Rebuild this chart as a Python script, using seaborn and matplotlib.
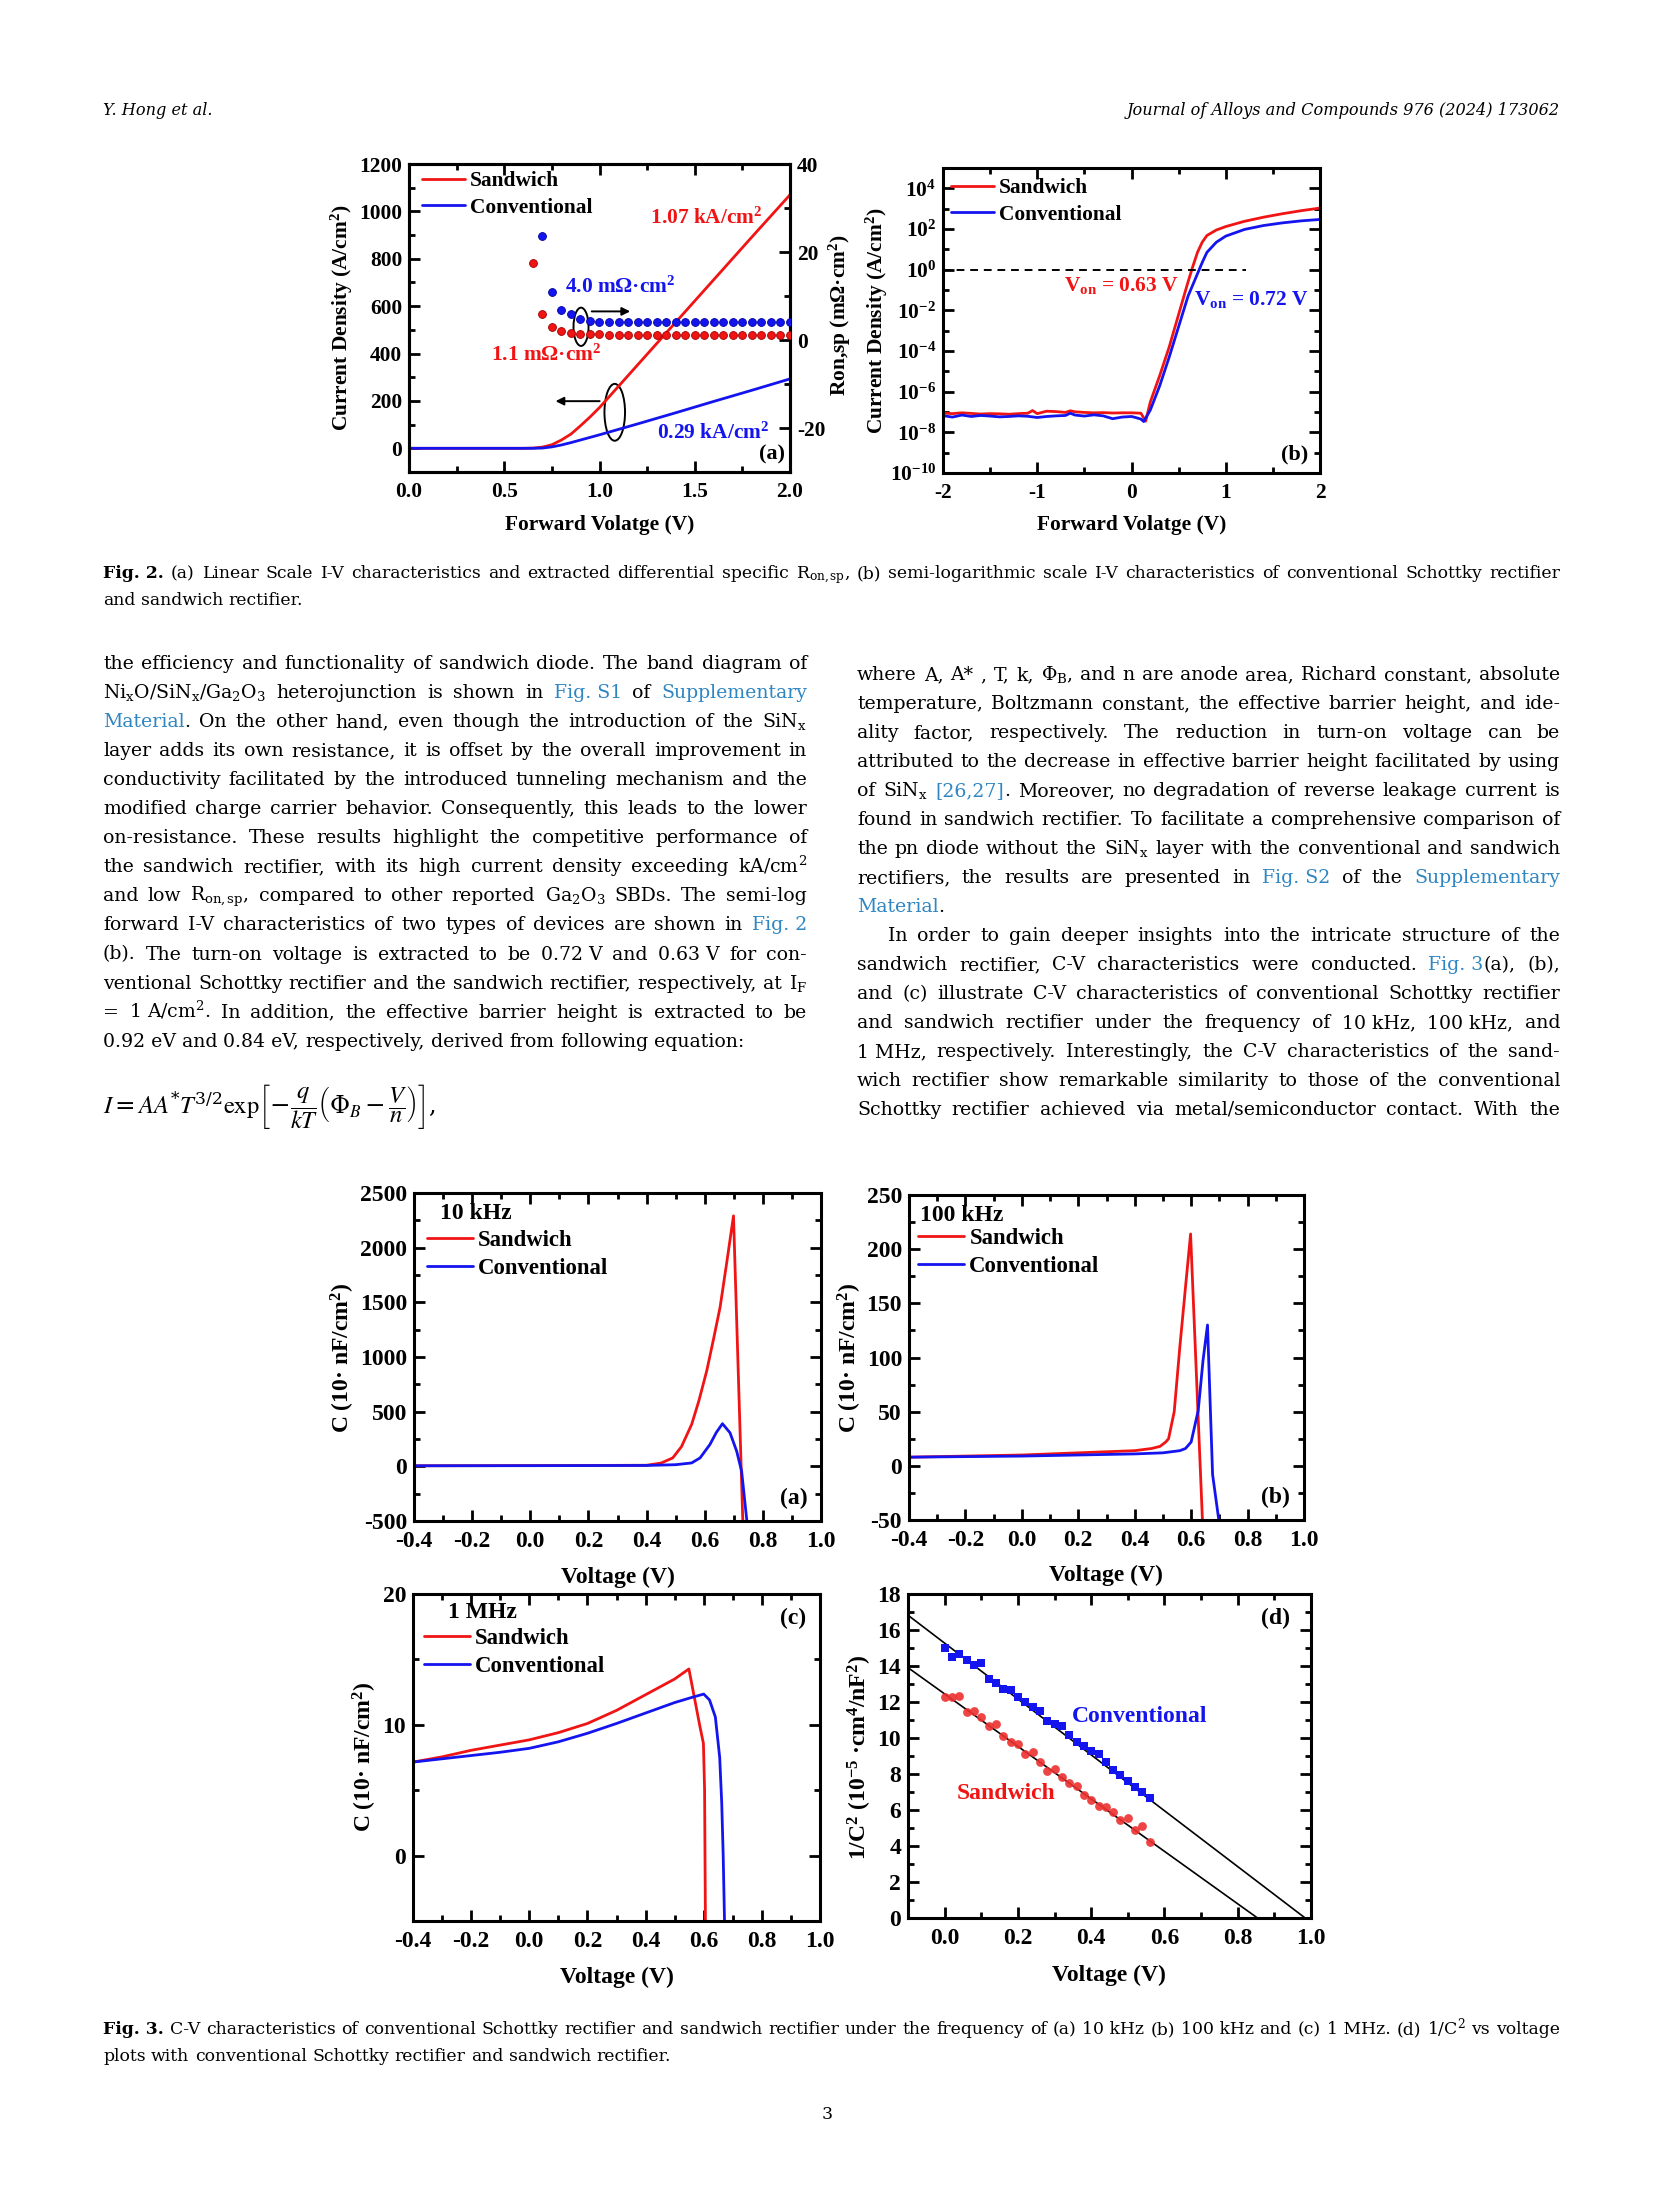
import numpy as np
import matplotlib
matplotlib.use('Agg')
import matplotlib.pyplot as plt
import seaborn as sns
from matplotlib.patches import Ellipse
from matplotlib.ticker import MultipleLocator, FixedLocator, NullFormatter

# ---------------- values ----------------
# Fig. 2(a) linear J-V, A/cm2
sand_v = [0.0, 0.6, 0.65, 0.7, 0.75, 0.8, 0.85, 0.9, 0.95, 1.0, 1.1, 1.2, 1.4, 1.6, 1.8, 2.0]
sand_j = [0, 0, 1, 5, 15, 35, 60, 95, 132, 172, 262, 352, 532, 712, 892, 1070]
conv_v = [0.0, 0.65, 0.7, 0.75, 0.8, 0.85, 0.9, 0.95, 1.0, 1.2, 1.4, 1.6, 1.8, 2.0]
conv_j = [0, 0, 1, 6, 14, 24, 35, 46, 57, 103, 150, 198, 245, 293]

# Fig. 2(a) differential Ron,sp, mOhm.cm2 (right axis)
ron_sand_v = [0.65, 0.70, 0.75, 0.80, 0.85, 0.90, 0.95, 1.00, 1.05, 1.10, 1.15, 1.20, 1.25, 1.30,
              1.35, 1.40, 1.45, 1.50, 1.55, 1.60, 1.65, 1.70, 1.75, 1.80, 1.85, 1.90, 1.95, 2.00]
ron_sand = [17.4, 5.9, 3.0, 2.0, 1.5, 1.4, 1.3, 1.3, 1.25, 1.25, 1.2, 1.2, 1.2, 1.2,
            1.2, 1.2, 1.2, 1.2, 1.2, 1.2, 1.2, 1.2, 1.2, 1.2, 1.2, 1.2, 1.2, 1.2]
ron_conv_v = [0.70, 0.75, 0.80, 0.85, 0.90, 0.95, 1.00, 1.05, 1.10, 1.15, 1.20, 1.25, 1.30, 1.35,
              1.40, 1.45, 1.50, 1.55, 1.60, 1.65, 1.70, 1.75, 1.80, 1.85, 1.90, 1.95, 2.00]
ron_conv = [23.7, 11.0, 6.8, 5.8, 4.7, 4.3, 4.2, 4.1, 4.05, 4.0, 4.0, 4.0, 4.0, 4.0,
            4.0, 4.0, 4.0, 4.0, 4.0, 4.0, 4.0, 4.0, 4.0, 4.0, 4.0, 4.0, 4.0]

# Fig. 2(b) semi-log J-V, log10(A/cm2)
log_v_sand = [-2.0, -1.9, -1.8, -1.7, -1.6, -1.5, -1.4, -1.3, -1.2, -1.1, -1.05, -1.0, -0.9, -0.8,
              -0.7, -0.65, -0.6, -0.5, -0.4, -0.3, -0.2, -0.1, 0.0, 0.1, 0.15, 0.2, 0.3, 0.4, 0.5,
              0.6, 0.65, 0.7, 0.75, 0.8, 0.9, 1.0, 1.2, 1.4, 1.6, 1.8, 2.0]
log_j_sand = [-7.05, -7.08, -7.04, -7.07, -7.10, -7.08, -7.09, -7.11, -7.08, -7.06, -6.93, -7.08,
              -6.96, -6.98, -7.02, -6.94, -6.99, -7.02, -7.04, -7.03, -7.05, -7.04, -7.04, -7.06,
              -7.45, -6.5, -5.2, -3.8, -2.2, -0.6, 0.15, 0.85, 1.35, 1.68, 1.95, 2.12, 2.38, 2.58,
              2.75, 2.9, 3.03]
log_v_conv = [-2.0, -1.9, -1.8, -1.7, -1.6, -1.5, -1.4, -1.3, -1.2, -1.1, -1.0, -0.9, -0.8, -0.7,
              -0.65, -0.6, -0.5, -0.4, -0.3, -0.2, -0.1, 0.0, 0.05, 0.1, 0.13, 0.2, 0.3, 0.4, 0.5,
              0.6, 0.7, 0.75, 0.8, 0.9, 1.0, 1.2, 1.4, 1.6, 1.8, 2.0]
log_j_conv = [-7.18, -7.25, -7.15, -7.22, -7.17, -7.20, -7.24, -7.22, -7.19, -7.21, -7.27, -7.22,
              -7.19, -7.17, -7.06, -7.15, -7.20, -7.14, -7.19, -7.33, -7.25, -7.22, -7.28, -7.35,
              -7.47, -6.9, -5.7, -4.3, -2.8, -1.3, -0.2, 0.35, 0.85, 1.35, 1.65, 1.98, 2.17, 2.3,
              2.4, 2.47]
criterion_j = 1.0
criterion_v_end = 1.22

# Fig. 3(a) 10 kHz
a_sand_v = [-0.4, -0.2, 0.0, 0.2, 0.4, 0.45, 0.49, 0.52, 0.555, 0.58, 0.607, 0.63, 0.653, 0.675, 0.699, 0.731]
a_sand_c = [5, 6, 7, 8, 10, 30, 77, 180, 383, 600, 874, 1160, 1457, 1850, 2291, -500]
a_conv_v = [-0.4, 0.0, 0.4, 0.5, 0.555, 0.584, 0.618, 0.64, 0.661, 0.687, 0.71, 0.727, 0.745]
a_conv_c = [5, 6, 8, 15, 31, 77, 200, 310, 390, 307, 138, -46, -500]

# Fig. 3(b) 100 kHz
b_sand_v = [-0.4, -0.2, 0.0, 0.2, 0.4, 0.46, 0.49, 0.51, 0.52, 0.54, 0.56, 0.58, 0.598, 0.640]
b_sand_c = [8, 9, 10, 12, 14, 16, 18, 22, 25, 50, 110, 165, 214, -50]
b_conv_v = [-0.4, -0.2, 0.0, 0.2, 0.4, 0.5, 0.56, 0.58, 0.60, 0.625, 0.642, 0.658, 0.676, 0.698]
b_conv_c = [8, 8.5, 9, 10, 11, 12, 14, 16, 22, 51, 97, 130, -8, -50]

# Fig. 3(c) 1 MHz
c_sand_v = [-0.4, -0.3, -0.2, -0.1, 0.0, 0.1, 0.2, 0.3, 0.4, 0.5, 0.549, 0.587, 0.599, 0.603, 0.606]
c_sand_c = [7.15, 7.55, 8.05, 8.45, 8.85, 9.4, 10.1, 11.1, 12.3, 13.5, 14.27, 9.87, 8.57, 5.0, -5.5]
c_conv_v = [-0.4, -0.3, -0.2, -0.1, 0.0, 0.1, 0.2, 0.3, 0.4, 0.5, 0.56, 0.6, 0.62, 0.64, 0.655,
            0.662, 0.667, 0.672]
c_conv_c = [7.15, 7.4, 7.65, 7.9, 8.2, 8.7, 9.35, 10.1, 10.9, 11.7, 12.1, 12.35, 11.9, 10.6, 7.5,
            4.0, 0.0, -5.5]

# Fig. 3(d) 1/C^2
d_v = [0.00, 0.02, 0.04, 0.06, 0.08, 0.10, 0.12, 0.14, 0.16, 0.18, 0.20, 0.22, 0.24, 0.26, 0.28,
       0.30, 0.32, 0.34, 0.36, 0.38, 0.40, 0.42, 0.44, 0.46, 0.48, 0.50, 0.52, 0.54, 0.56]
d_conv = [14.98, 14.48, 14.67, 14.34, 14.06, 14.15, 13.28, 13.08, 12.71, 12.67, 12.26, 12.0, 11.75,
          11.5, 10.93, 10.78, 10.64, 10.17, 9.77, 9.56, 9.29, 9.1, 8.64, 8.23, 7.95, 7.62, 7.27,
          6.99, 6.64]
d_sand = [12.3, 12.3, 12.34, 11.45, 11.5, 11.15, 10.67, 10.78, 10.12, 9.8, 9.67, 9.12, 9.21, 8.69,
          8.19, 8.29, 7.81, 7.49, 7.36, 6.81, 6.57, 6.25, 6.16, 5.88, 5.42, 5.55, 4.9, 5.09, 4.2]
# linear fits: value at V=0 and x-intercept
conv_fit = (15.27, 0.984)
sand_fit = (12.45, 0.854)

RED = '#f01414'
BLUE = '#1414ee'
LINK = '#2f86c2'
BODY = 'DejaVu Serif'

sns.set_theme(style='ticks')
plt.rcParams['font.family'] = ['Liberation Serif', 'DejaVu Serif']
plt.rcParams.update({
    'font.weight': 'bold', 'axes.labelweight': 'bold',
    'mathtext.fontset': 'custom', 'mathtext.default': 'regular',
    'mathtext.rm': 'STIXGeneral:weight=normal',
    'mathtext.it': 'STIXGeneral:style=italic:weight=normal',
    'mathtext.bf': 'STIXGeneral:weight=bold',
    'axes.unicode_minus': False,
    'axes.edgecolor': 'black', 'text.color': 'black', 'axes.labelcolor': 'black',
    'xtick.color': 'black', 'ytick.color': 'black',
})

W, H = 1654, 2205
fig = plt.figure(figsize=(W / 200, H / 200), dpi=200)
page = fig.add_axes([0, 0, 1, 1])
page.set_xlim(0, W)
page.set_ylim(H, 0)
page.axis('off')
renderer = fig.canvas.get_renderer()


def box(x0, y0, x1, y1):
    return fig.add_axes([x0 / W, 1 - y1 / H, (x1 - x0) / W, (y1 - y0) / H])


def frame(ax, xlim, ylim, xmaj, xmin, ymaj, ymin, size):
    ax.set_xlim(*xlim)
    ax.set_ylim(*ylim)
    ax.xaxis.set_major_locator(MultipleLocator(xmaj))
    ax.xaxis.set_minor_locator(MultipleLocator(xmin))
    if ymaj:
        ax.yaxis.set_major_locator(MultipleLocator(ymaj))
        ax.yaxis.set_minor_locator(MultipleLocator(ymin))
    ax.tick_params(which='both', direction='in', top=True, right=True, labelsize=size, width=1.0)
    ax.tick_params(which='major', length=4)
    ax.tick_params(which='minor', length=2)
    ax.tick_params(axis='y', pad=2.5)
    for s in ax.spines.values():
        s.set_linewidth(1.1)
        s.set_color('black')


def labels(ax, xl, yl, xpos, ypos, size):
    ax.set_xlabel(xl, fontsize=size)
    ax.set_ylabel(yl, fontsize=size)
    ax.xaxis.set_label_coords(*xpos, transform=page.transData)
    ax.yaxis.set_label_coords(*ypos, transform=page.transData)
    ax.xaxis.label.set_va('center')
    ax.yaxis.label.set_va('center')


def legend(ax, x, y, size):
    ax.legend(loc='upper left', bbox_to_anchor=(x, y), frameon=False, fontsize=size,
              handlelength=2.0, handletextpad=0.25, labelspacing=0.32, borderaxespad=0, borderpad=0)


# ---------------- Fig. 2(a) ----------------
ax = box(409, 164, 790, 472)
sns.lineplot(x=sand_v, y=sand_j, ax=ax, color=RED, lw=1.0, sort=False, estimator=None, label='Sandwich')
sns.lineplot(x=conv_v, y=conv_j, ax=ax, color=BLUE, lw=1.0, sort=False, estimator=None, label='Conventional')
frame(ax, (0, 2), (-100, 1200), 0.5, 0.25, 200, 100, 7.7)
ax2 = ax.twinx()
sns.scatterplot(x=ron_sand_v, y=ron_sand, ax=ax2, color=RED, s=8, linewidth=0.3, edgecolor='#a00000', zorder=3)
sns.scatterplot(x=ron_conv_v, y=ron_conv, ax=ax2, color=BLUE, s=8, linewidth=0.3, edgecolor='#0000a0', zorder=3)
ax2.set_ylim(-30, 40)
ax2.yaxis.set_major_locator(MultipleLocator(20))
ax2.yaxis.set_minor_locator(MultipleLocator(10))
ax2.tick_params(axis='y', which='both', direction='in', right=True, left=False, labelsize=7.7, width=1.0, pad=2.5)
ax2.tick_params(axis='y', which='major', length=4)
ax2.tick_params(axis='y', which='minor', length=2)
for s in ax2.spines.values():
    s.set_linewidth(1.1)
    s.set_color('black')
ax2.add_patch(Ellipse((0.903, 3.0), 0.079, 8.7, fill=False, lw=0.7, ec='black'))
ax2.annotate('', xy=(1.19, 6.5), xytext=(0.93, 6.5),
             arrowprops=dict(arrowstyle='-|>', lw=0.7, color='black', mutation_scale=6))
ax.add_patch(Ellipse((1.08, 152), 0.108, 240, fill=False, lw=0.7, ec='black'))
ax.annotate('', xy=(0.74, 199), xytext=(1.03, 199),
            arrowprops=dict(arrowstyle='-|>', lw=0.7, color='black', mutation_scale=6))
ax.text(1.24, 970, ' 1.07 kA/cm$^2$', color=RED, fontsize=7.7, va='center')
ax.text(0.82, 681, '4.0 mΩ·cm$^2$', color=BLUE, fontsize=7.7, va='center')
ax.text(0.43, 392, '1.1 mΩ·cm$^2$', color=RED, fontsize=7.7, va='center')
ax.text(1.30, 63, '0.29 kA/cm$^2$', color=BLUE, fontsize=7.7, va='center')
ax.text(0.987, 0.058, '(a)', transform=ax.transAxes, fontsize=8, ha='right', va='center')
legend(ax, 0.034, 0.977, 7.7)
labels(ax, 'Forward Volatge (V)', 'Current Density (A/cm$^2$)', (600, 525), (342, 318), 7.7)
ax2.set_ylabel('Ron,sp (mΩ·cm$^2$)', fontsize=7.7)
ax2.yaxis.set_label_coords(840, 315, transform=page.transData)
ax2.yaxis.label.set_va('center')
ax2.yaxis.label.set_rotation(90)

# ---------------- Fig. 2(b) ----------------
ax = box(943, 168, 1320, 473)
sns.lineplot(x=log_v_sand, y=10 ** np.array(log_j_sand), ax=ax, color=RED, lw=1.0, sort=False,
             estimator=None, label='Sandwich')
sns.lineplot(x=log_v_conv, y=10 ** np.array(log_j_conv), ax=ax, color=BLUE, lw=1.0, sort=False,
             estimator=None, label='Conventional')
ax.set_yscale('log')
frame(ax, (-2, 2), (1e-10, 1e5), 1, 0.5, None, None, 7.7)
major = [10.0 ** e for e in range(-10, 5, 2)]
ax.set_yticks(major, ['$10^{%d}$' % e for e in range(-10, 5, 2)])
ax.yaxis.set_minor_locator(FixedLocator([10.0 ** e for e in range(-9, 5, 2)]))
ax.yaxis.set_minor_formatter(NullFormatter())
ax.hlines(criterion_j, -2, criterion_v_end, colors='black', linestyles=(0, (4, 3)), lw=0.7)
ax.text(-0.72, 10 ** -1.05, 'V$_{on}$ = 0.63 V', color=RED, fontsize=7.7, va='baseline')
ax.text(0.66, 10 ** -1.74, 'V$_{on}$ = 0.72 V', color=BLUE, fontsize=7.7, va='baseline')
ax.text(0.968, 0.062, '(b)', transform=ax.transAxes, fontsize=8, ha='right', va='center')
legend(ax, 0.021, 0.967, 7.7)
labels(ax, 'Forward Volatge (V)', 'Current Density (A/cm$^2$)', (1132, 525), (877, 321), 7.7)

# ---------------- Fig. 3 ----------------
cv_label = 'C (10· nF/cm$^2$)'
panels = [
    ((414, 1193, 821, 1521), a_sand_v, a_sand_c, a_conv_v, a_conv_c, (-500, 2500), 500, 250,
     '10 kHz', (0.064, 0.939), (0.032, 0.887), '(a)', (0.966, 0.07), (618, 1577), (343, 1358)),
    ((909, 1195, 1304, 1520), b_sand_v, b_sand_c, b_conv_v, b_conv_c, (-50, 250), 50, 25,
     '100 kHz', (0.028, 0.938), (0.023, 0.90), '(b)', (0.965, 0.068), (1106, 1575), (850, 1358)),
    ((413, 1594, 820, 1921), c_sand_v, c_sand_c, c_conv_v, c_conv_c, (-5, 20), 10, 5,
     '1 MHz', (0.086, 0.942), (0.027, 0.896), '(c)', (0.966, 0.924), (617, 1977), (365, 1757)),
]
for rect, sv, sc, cv, cc, ylim, ymaj, ymin, freq, fpos, lpos, tag, tpos, xlp, ylp in panels:
    ax = box(*rect)
    sns.lineplot(x=sv, y=sc, ax=ax, color=RED, lw=1.0, sort=False, estimator=None, label='Sandwich')
    sns.lineplot(x=cv, y=cc, ax=ax, color=BLUE, lw=1.0, sort=False, estimator=None, label='Conventional')
    frame(ax, (-0.4, 1.0), ylim, 0.2, 0.1, ymaj, ymin, 8.5)
    ax.text(*fpos, freq, transform=ax.transAxes, fontsize=8.5, va='center')
    ax.text(*tpos, tag, transform=ax.transAxes, fontsize=8.5, ha='right', va='center')
    legend(ax, *lpos, 8.2)
    labels(ax, 'Voltage (V)', cv_label, xlp, ylp, 8.5)

ax = box(908, 1594, 1311, 1918)
for c0, v0 in (conv_fit, sand_fit):
    fv = np.array([-0.1, v0])
    sns.lineplot(x=fv, y=c0 * (1 - fv / v0), ax=ax, color='black', lw=0.6, sort=False, estimator=None)
sns.scatterplot(x=d_v, y=d_conv, ax=ax, marker='s', s=9, color=BLUE, linewidth=0, zorder=3)
sns.scatterplot(x=d_v, y=d_sand, ax=ax, marker='o', s=10, color='#ee3030', linewidth=0, alpha=0.9, zorder=3)
frame(ax, (-0.1, 1.0), (0, 18), 0.2, 0.1, 2, 1, 8.5)
ax.text(0.347, 11.19, 'Conventional', color=BLUE, fontsize=8.5, va='center')
ax.text(0.032, 6.94, 'Sandwich', color=RED, fontsize=8.5, va='center')
ax.text(0.948, 0.926, '(d)', transform=ax.transAxes, fontsize=8.5, ha='right', va='center')
labels(ax, 'Voltage (V)', '1/C$^2$ (10$^{-5}$ ·cm$^4$/nF$^2$)', (1109, 1975), (860, 1757), 8.5)

# ---------------- page text ----------------
STY = {'n': ('black', 'normal'), 'l': (LINK, 'normal'), 'b': ('black', 'bold')}
NB = '\u00a0'

left_lines = [
    [("the efficiency and functionality of sandwich diode. The band diagram of", 'n')],
    [("Ni$_x$O/SiN$_x$/Ga$_2$O$_3$ heterojunction is shown in ", 'n'), ("Fig." + NB + "S1", 'l'),
     (" of ", 'n'), ("Supplementary", 'l')],
    [("Material", 'l'), (". On the other hand, even though the introduction of the SiN$_x$", 'n')],
    [("layer adds its own resistance, it is offset by the overall improvement in", 'n')],
    [("conductivity facilitated by the introduced tunneling mechanism and the", 'n')],
    [("modified charge carrier behavior. Consequently, this leads to the lower", 'n')],
    [("on-resistance. These results highlight the competitive performance of", 'n')],
    [("the sandwich rectifier, with its high current density exceeding kA/cm$^2$", 'n')],
    [("and low R$_{on,sp}$, compared to other reported Ga$_2$O$_3$ SBDs. The semi-log", 'n')],
    [("forward I-V characteristics of two types of devices are shown in ", 'n'), ("Fig." + NB + "2", 'l')],
    [("(b). The turn-on voltage is extracted to be 0.72" + NB + "V and 0.63" + NB + "V for con-", 'n')],
    [("ventional Schottky rectifier and the sandwich rectifier, respectively, at I$_F$", 'n')],
    [("= 1" + NB + "A/cm$^2$. In addition, the effective barrier height is extracted to be", 'n')],
    [("0.92" + NB + "eV and 0.84" + NB + "eV, respectively, derived from following equation:", 'n')],
]
left_last = {13}

right_lines = [
    [("where A, A* , T, k, Φ$_B$, and n are anode area, Richard constant, absolute", 'n')],
    [("temperature, Boltzmann constant, the effective barrier height, and ide-", 'n')],
    [("ality factor, respectively. The reduction in turn-on voltage can be", 'n')],
    [("attributed to the decrease in effective barrier height facilitated by using", 'n')],
    [("of SiN$_x$ ", 'n'), ("[26,27]", 'l'), (". Moreover, no degradation of reverse leakage current is", 'n')],
    [("found in sandwich rectifier. To facilitate a comprehensive comparison of", 'n')],
    [("the pn diode without the SiN$_x$ layer with the conventional and sandwich", 'n')],
    [("rectifiers, the results are presented in ", 'n'), ("Fig." + NB + "S2", 'l'), (" of the ", 'n'),
     ("Supplementary", 'l')],
    [("Material", 'l'), (".", 'n')],
    [("In order to gain deeper insights into the intricate structure of the", 'n')],
    [("sandwich rectifier, C-V characteristics were conducted. ", 'n'), ("Fig." + NB + "3", 'l'),
     ("(a), (b),", 'n')],
    [("and (c) illustrate C-V characteristics of conventional Schottky rectifier", 'n')],
    [("and sandwich rectifier under the frequency of 10" + NB + "kHz, 100" + NB + "kHz, and", 'n')],
    [("1" + NB + "MHz, respectively. Interestingly, the C-V characteristics of the sand-", 'n')],
    [("wich rectifier show remarkable similarity to those of the conventional", 'n')],
    [("Schottky rectifier achieved via metal/semiconductor contact. With the", 'n')],
]
right_last = {8}
right_indent = {9}

cap2 = [
    [("Fig." + NB + "2.", 'b'), (" (a) Linear Scale I-V characteristics and extracted differential specific "
     "R$_{on,sp}$, (b) semi-logarithmic scale I-V characteristics of conventional Schottky rectifier", 'n')],
    [("and sandwich rectifier.", 'n')],
]
cap3 = [
    [("Fig." + NB + "3.", 'b'), (" C-V characteristics of conventional Schottky rectifier and sandwich rectifier "
     "under the frequency of (a) 10" + NB + "kHz (b) 100" + NB + "kHz and (c) 1" + NB + "MHz. (d) 1/C$^2$ vs voltage", 'n')],
    [("plots with conventional Schottky rectifier and sandwich rectifier.", 'n')],
]


def make_words(tokens):
    words = [[]]
    for s, st in tokens:
        for i, part in enumerate(s.split(' ')):
            if i > 0:
                words.append([])
            if part:
                words[-1].append((part, st))
    return [w for w in words if w]


def draw_words(tokens, size, y):
    out = []
    for w in make_words(tokens):
        arts, cx = [], 0.0
        for s, st in w:
            color, weight = STY[st]
            t = page.text(0, y, s, fontsize=size, color=color, fontweight=weight, family=BODY,
                          va='baseline', ha='left')
            arts.append((t, cx))
            cx += t.get_window_extent(renderer).width
        out.append((arts, cx))
    return out


def space(size):
    return 0.318 * size * 200 / 72


def natural(tokens, size):
    out = draw_words(tokens, size, 0)
    total = sum(w for _, w in out) + space(size) * (len(out) - 1)
    for arts, _ in out:
        for t, _ in arts:
            t.remove()
    return total


def put_line(tokens, x0, x1, y, size, justify):
    out = draw_words(tokens, size, y)
    total = sum(w for _, w in out)
    n = len(out)
    gap = (x1 - x0 - total) / (n - 1) if (justify and n > 1) else space(size)
    x = x0
    for arts, w in out:
        for t, off in arts:
            t.set_x(x + off)
        x += w + gap


def fit(lines, width, base):
    return min(base * width / natural(toks, base) for toks in lines) * 0.995


LX0, LX1, RX0, RX1 = 103, 807, 857, 1560
body_lines = [(l, LX1 - LX0) for i, l in enumerate(left_lines) if i not in left_last]
body_lines += [(l, RX1 - RX0 - (31 if i in right_indent else 0))
               for i, l in enumerate(right_lines) if i not in right_last]
body = min(fit([l], w, 7.0) for l, w in body_lines)
body = min(body, 7.4)

for i, toks in enumerate(left_lines):
    put_line(toks, LX0, LX1, 669 + 29.05 * i, body, i not in left_last)
for i, toks in enumerate(right_lines):
    x0 = RX0 + (31 if i in right_indent else 0)
    put_line(toks, x0, RX1, 680 + 29.0 * i, body, i not in right_last)

eq = (r'$\mathit{I} = \mathit{AA}^{*}\mathit{T}^{3/2}\mathrm{exp}\left[-\dfrac{\mathit{q}}{\mathit{kT}}'
      r'\left(\Phi_{\mathit{B}} - \dfrac{\mathit{V}}{\mathit{n}}\right)\right]$,')
page.text(LX0, 1114, eq, fontsize=body * 1.3, family=BODY, fontweight='normal', va='baseline')

cap = min(fit([cap2[0]], RX1 - LX0, 6.0), fit([cap3[0]], RX1 - LX0, 6.0))
put_line(cap2[0], LX0, RX1, 578, cap, True)
put_line(cap2[1], LX0, RX1, 605, cap, False)
put_line(cap3[0], LX0, RX1, 2034, cap, True)
put_line(cap3[1], LX0, RX1, 2061, cap, False)

page.text(LX0, 115, 'Y. Hong et al.', fontsize=5.8, style='italic', family=BODY, fontweight='normal',
          va='baseline')
page.text(RX1, 115, 'Journal of Alloys and Compounds 976 (2024) 173062', fontsize=5.8, style='italic',
          family=BODY, fontweight='normal', va='baseline', ha='right')
page.text(W / 2, 2119, '3', fontsize=6.2, family=BODY, fontweight='normal', va='baseline', ha='center')

fig.savefig('out.png', dpi=200)
